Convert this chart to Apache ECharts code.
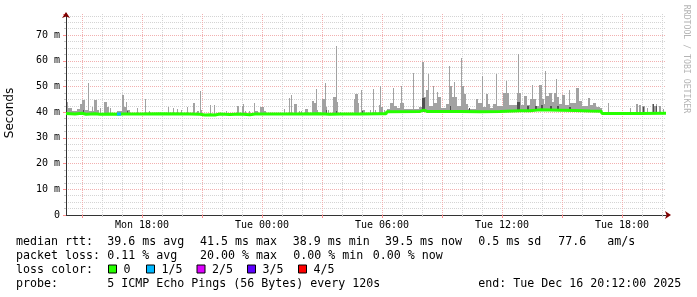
<!DOCTYPE html>
<html><head><meta charset="utf-8">
<script src="https://cdn.jsdelivr.net/npm/echarts@6/dist/echarts.min.js"></script>
<style>html,body{margin:0;padding:0;background:#fff}#c{width:697px;height:297px}</style>
</head><body><div id="c"></div>
<script>
// time axis: hours since Mon Dec 15 00:00 (end Tue Dec 16 20:12)
const timeMin = 14.2, timeMax = 44.2;
const hourGrid = [15,16,17,18,19,20,21,22,23,24,25,26,27,28,29,30,31,32,33,34,35,36,37,38,39,40,41,42,43,44];
const majorGrid = [15,18,21,24,27,30,33,36,39,42];
const labelHours = [18,24,30,36,42];
const labelTexts = ['Mon 18:00','Tue 00:00','Tue 06:00','Tue 12:00','Tue 18:00'];
const yMax = 78.2; // milliseconds

// median rtt (ms)
const medianHours  = [14.2,14.65,15.0,15.2,15.65,15.9,16.4,16.8,17.05,17.15,17.9,18.9,20.4,20.9,21.15,21.4,21.65,21.9,22.4,22.9,23.4,23.65,24.4,25.9,26.9,27.4,27.9,28.9,29.9,30.2,30.25,31.9,32.1,32.25,33.9,34.9,35.9,36.9,37.4,37.9,38.9,39.65,40.4,40.95,41.0,41.9,42.9,44.2];
const medianValues = [39.5,39.3,39.6,39.2,39.4,39.2,39.3,39.2,39.3,39.4,39.3,39.4,39.3,39.2,38.9,39.0,38.9,39.3,39.1,39.3,39.0,39.3,39.3,39.3,39.4,39.2,39.3,39.3,39.4,39.4,40.2,40.3,40.8,40.3,40.3,40.2,40.3,40.6,40.6,40.9,40.8,40.7,40.5,40.4,39.5,39.5,39.5,39.6];
// median segment with 1/5 loss
const lossHours = [16.75,16.95];
const lossValues = [39.3,39.3];

// smoke: [start hour, end hour, low ms, high ms]
const smokeLight = [
[14.25,14.30,39.1,44.1],[14.30,14.50,39.1,41.6],[14.50,14.75,39.1,40.4],[14.75,14.90,39.1,41.1],
[14.90,15.00,39.1,43.2],[15.00,15.15,39.1,44.6],[15.15,15.30,39.1,40.8],[15.30,15.35,39.1,51.5],
[15.35,15.50,39.1,40.5],[15.50,15.55,39.1,42.0],[15.55,15.60,39.1,40.6],[15.60,15.75,39.1,44.7],
[15.75,15.85,39.1,41.0],[15.90,15.95,39.1,41.5],[16.10,16.25,39.1,44.1],[16.25,16.35,39.1,42.0],
[16.40,16.45,39.1,41.6],[16.75,17.00,39.1,40.3],[17.00,17.10,39.1,46.7],[17.10,17.20,39.1,42.0],
[17.20,17.25,39.1,44.1],[17.25,17.40,39.1,40.7],[17.75,17.80,39.1,41.6],[18.15,18.20,39.1,45.1],
[18.35,18.40,39.1,40.6],[19.30,19.35,39.1,41.9],[19.55,19.60,39.1,41.6],[19.75,19.80,39.1,41.1],
[19.95,20.00,39.1,40.7],[20.25,20.30,39.1,42.1],[20.55,20.65,39.1,43.6],[20.75,20.85,39.1,40.6],
[20.90,20.95,39.1,48.2],[20.95,21.00,39.1,40.9],[21.40,21.45,39.1,42.8],[21.60,21.65,39.1,42.8],
[22.20,22.25,39.1,40.6],[22.75,22.85,39.1,42.3],[23.00,23.05,39.1,42.5],[23.05,23.10,39.1,43.0],
[23.15,23.20,39.1,40.6],[23.35,23.40,39.1,40.4],[23.60,23.65,39.1,43.4],[23.65,23.80,39.1,40.5],
[23.90,24.10,39.1,42.0],[24.10,24.20,39.1,40.3],[25.10,25.15,39.1,41.1],[25.35,25.40,39.1,45.4],
[25.45,25.50,39.1,46.7],[25.60,25.75,39.1,43.0],[25.85,25.90,39.1,40.4],[25.95,26.00,39.1,40.4],
[26.15,26.30,39.1,41.2],[26.50,26.60,39.1,44.3],[26.60,26.70,39.1,43.4],[26.70,26.75,39.1,49.0],
[26.75,26.80,39.1,41.0],[27.00,27.15,39.1,45.0],[27.15,27.20,39.1,51.5],[27.20,27.25,39.1,42.0],
[27.30,27.35,39.1,40.8],[27.55,27.70,39.1,46.0],[27.70,27.75,39.1,65.9],[27.75,27.80,39.1,44.0],
[27.90,27.95,39.1,40.2],[28.60,28.65,39.1,45.0],[28.65,28.80,39.1,46.9],[28.80,28.85,39.1,43.4],
[28.95,29.00,39.1,48.6],[29.00,29.10,39.1,41.0],[29.10,29.15,39.1,40.7],[29.40,29.45,39.1,40.7],
[29.55,29.60,39.1,49.0],[29.65,29.70,39.1,40.7],[29.85,29.90,39.1,42.8],[29.90,29.95,39.1,50.2],
[29.95,30.05,39.1,42.0],[30.10,30.15,39.1,40.8],
[30.25,30.40,40.0,41.3],[30.40,30.55,40.0,43.6],[30.55,30.60,40.0,49.5],[30.60,30.75,40.0,42.5],
[30.75,30.90,40.0,41.5],[30.90,30.95,40.0,43.4],[30.95,31.00,40.0,50.3],[31.00,31.10,40.0,43.4],
[31.10,31.55,40.0,41.1],[31.55,31.60,40.0,55.1],[31.60,31.85,40.0,41.3],[31.85,32.00,40.0,42.0],
[32.00,32.10,40.0,59.6],[32.10,32.20,40.0,46.0],[32.20,32.30,40.0,48.6],[32.30,32.35,40.0,55.0],
[32.35,32.55,40.0,42.5],[32.55,32.60,40.0,50.2],[32.60,32.75,40.0,43.4],[32.75,32.80,40.0,47.8],
[32.80,32.95,40.0,45.8],[32.95,33.20,40.0,41.5],[33.20,33.35,40.0,43.0],[33.35,33.40,40.0,58.0],
[33.40,33.50,40.0,50.0],[33.50,33.60,40.0,45.8],[33.60,33.65,40.0,51.9],[33.65,33.75,40.0,45.8],
[33.75,33.95,40.0,42.5],[33.95,34.00,40.0,61.0],[34.00,34.10,40.0,50.0],[34.10,34.20,40.0,47.2],
[34.20,34.30,40.0,43.0],[34.30,34.70,40.0,41.4],[34.70,34.80,40.0,45.0],[34.80,35.00,40.0,43.4],
[35.00,35.05,40.0,54.1],[35.05,35.20,40.0,42.0],[35.20,35.30,40.0,47.2],[35.30,35.40,40.0,43.0],
[35.40,35.55,40.0,41.5],[35.55,35.70,40.0,43.0],[35.70,35.75,40.0,55.0],[35.75,36.05,40.0,42.4],
[36.05,36.20,40.0,47.4],[36.20,36.25,40.0,52.1],[36.25,36.35,40.0,47.4],[36.35,36.75,40.0,42.8],
[36.75,36.80,40.3,47.4],[36.80,36.85,40.3,62.8],[36.85,36.95,40.3,47.4],[36.95,37.10,40.3,42.8],
[37.10,37.25,40.3,46.3],[37.25,37.40,40.3,42.8],[37.40,37.50,40.3,45.3],[37.50,37.55,40.3,50.4],
[37.55,37.70,40.3,45.0],[37.70,37.85,40.3,42.5],[37.85,38.00,40.3,50.4],[38.00,38.10,40.3,45.0],
[38.10,38.15,40.3,43.0],[38.15,38.20,40.3,56.0],[38.20,38.35,40.3,46.3],[38.35,38.50,40.3,47.3],
[38.50,38.60,40.3,44.0],[38.60,38.70,40.3,47.3],[38.70,38.75,40.3,53.0],[38.75,38.85,40.3,46.0],
[38.85,39.00,40.3,43.0],[39.00,39.15,40.3,46.8],[39.15,39.35,40.3,42.8],[39.35,39.40,40.3,48.6],
[39.40,39.70,40.3,43.5],[39.70,39.85,40.3,49.5],[39.85,40.00,40.3,44.3],[40.00,40.30,40.2,42.4],
[40.30,40.40,40.2,45.4],[40.40,40.55,40.2,42.8],[40.55,40.70,40.2,43.4],[40.70,40.90,40.1,42.0],
[40.90,41.00,40.1,41.5],
[41.30,41.35,39.2,43.7],[42.40,42.45,39.2,41.7],[42.70,42.80,39.2,43.0],[42.85,42.95,39.2,42.7],
[43.00,43.15,39.2,42.4],[43.25,43.30,39.2,41.6],[43.50,43.55,39.2,43.2],[43.60,43.70,39.2,42.4],
[43.70,43.75,39.2,43.2],[43.85,43.95,39.2,42.4],[44.05,44.10,39.2,41.3]
];
const smokeDark = [
[15.05,15.10,39.2,41.0],[17.25,17.30,39.2,40.6],[27.20,27.25,39.3,41.0],[27.70,27.75,39.3,40.6],
[29.00,29.05,39.3,40.4],[32.00,32.15,40.2,45.5],[33.40,33.45,40.2,42.5],[34.35,34.40,40.2,41.5],
[36.75,36.90,40.5,44.0],[37.25,37.35,40.6,42.5],[37.65,37.75,40.6,42.5],[37.95,38.05,40.6,42.8],
[38.40,38.50,40.6,42.5],[38.75,38.85,40.6,42.5],[39.35,39.45,40.5,42.0],[43.05,43.10,39.3,42.0],
[43.55,43.60,39.3,43.0],[43.70,43.75,39.3,42.4]
];

// legend texts
const rttRow = ['median rtt:','39.6 ms avg','41.5 ms max','38.9 ms min','39.5 ms now','0.5 ms sd','77.6   am/s'];
const lossRow = ['packet loss:','0.11 % avg','20.00 % max','0.00 % min','0.00 % now'];
const lossLegendTitle = 'loss color:';
const lossLabels = ['0','1/5','2/5','3/5','4/5'];
const probeRow = ['probe:','5 ICMP Echo Pings (56 Bytes) every 120s'];
const endText = 'end: Tue Dec 16 20:12:00 2025';
const yTitle = 'Seconds';
const watermark = 'RRDTOOL / TOBI OETIKER';

// ---------- layout / style ----------
const lossColors = ['#26ff00','#00b8ff','#dd00ff','#5e00ff','#ff0000'];
const MONO = '"DejaVu Sans Mono"';
const legendFont = '11.63px ' + MONO;
const rttX = [16,107.3,200,292.7,385,478.3,558.3];
const lossX = [16,107.3,200,293.3,372.7];
const boxX = [108.5,146.5,197,247.5,298.5];
const rowY = [241.5,255.5,269.5,283.5];
const grid = {left:66, right:31, top:14, bottom:82};

function txt(x, y, s, extra) {
  return Object.assign({type:'text', x:x, y:y, silent:true, style:{text:s, font:legendFont, fill:'#000',
    align:'left', verticalAlign:'middle', textAlign:'left', textVerticalAlign:'middle'}}, extra || {});
}
const graphics = [];
rttRow.forEach((s,i)=>graphics.push(txt(rttX[i], rowY[0], s)));
lossRow.forEach((s,i)=>graphics.push(txt(lossX[i], rowY[1], s)));
graphics.push(txt(16, rowY[2], lossLegendTitle));
lossLabels.forEach((s,i)=>{
  graphics.push({type:'rect', silent:true, shape:{x:boxX[i], y:rowY[2]-4.5, width:8, height:8},
    style:{fill:lossColors[i], stroke:'#000', lineWidth:1}});
  graphics.push(txt(boxX[i]+15, rowY[2], s));
});
graphics.push(txt(16, rowY[3], probeRow[0]));
graphics.push(txt(107.3, rowY[3], probeRow[1]));
graphics.push(txt(478.3, rowY[3], endText));
graphics.push({type:'text', x:10, y:113, rotation:Math.PI/2, silent:true,
  style:{text:yTitle, font:'12px "DejaVu Sans"', fill:'#000', align:'center', verticalAlign:'middle', textAlign:'center', textVerticalAlign:'middle'}});
graphics.push({type:'text', x:686, y:59, rotation:-Math.PI/2, silent:true,
  style:{text:watermark, font:'8.2px ' + MONO, fill:'#b4b4b4', align:'center', verticalAlign:'middle', textAlign:'center', textVerticalAlign:'middle'}});

function smokeRender(color) {
  return function(params, api) {
    const p1 = api.coord([api.value(0), api.value(3)]);
    const p2 = api.coord([api.value(1), api.value(2)]);
    const x1 = Math.round(p1[0]), x2 = Math.round(p2[0]);
    const y1 = Math.round(p1[1]), y2 = Math.round(p2[1]);
    return {type:'rect', shape:{x:x1, y:y1, width:Math.max(1, x2-x1), height:Math.max(1, y2-y1)},
      style:{fill:color}};
  };
}

const baseX = {type:'value', min:timeMin, max:timeMax, position:'bottom', axisLabel:{show:false},
  axisLine:{show:false, onZero:false}, axisTick:{show:false}, splitLine:{show:false}};
const baseY = {type:'value', min:0, max:yMax, position:'left', axisLabel:{show:false},
  axisLine:{show:false, onZero:false}, axisTick:{show:false}, splitLine:{show:false}};

const option = {
  animation:false,
  backgroundColor:'#fff',
  grid:grid,
  xAxis:[
    Object.assign({}, baseX, {
      axisTick:{show:true, customValues:hourGrid, length:2, lineStyle:{color:'#c8c8c8'}},
      splitLine:{show:true, lineStyle:{color:'#d4d4d4', width:1, type:[1,1]}}}),
    Object.assign({}, baseX, {
      axisLine:{show:true, onZero:false, lineStyle:{color:'#800000', width:1}, symbol:['none','arrow'], symbolSize:[6,6], symbolOffset:[0,5]},
      axisTick:{show:true, customValues:majorGrid, length:3, lineStyle:{color:'#ff9090'}},
      splitLine:{show:true, lineStyle:{color:'#f2b0b0', width:1, type:[1,1]}}}),
    Object.assign({}, baseX, {
      axisLine:{show:true, onZero:false, lineStyle:{color:'#333', width:1}},
      axisLabel:{show:true, customValues:labelHours, margin:5, color:'#000', fontFamily:'DejaVu Sans Mono', fontSize:10,
        formatter:function(v){ const i = labelHours.indexOf(v); return i >= 0 ? labelTexts[i] : ''; }}})
  ],
  yAxis:[
    Object.assign({}, baseY, {interval:2.5,
      axisTick:{show:true, length:2, lineStyle:{color:'#c8c8c8'}},
      splitLine:{show:true, showMinLine:false, showMaxLine:false, lineStyle:{color:'#d4d4d4', width:1, type:[1,1]}}}),
    Object.assign({}, baseY, {interval:10,
      axisLine:{show:true, onZero:false, lineStyle:{color:'#800000', width:1}, symbol:['none','arrow'], symbolSize:[6,6], symbolOffset:[0,2]},
      axisTick:{show:true, length:3, lineStyle:{color:'#ff9090'}},
      splitLine:{show:true, showMinLine:false, showMaxLine:false, lineStyle:{color:'#f2b0b0', width:1, type:[1,1]}}}),
    Object.assign({}, baseY, {interval:10,
      axisLine:{show:true, onZero:false, lineStyle:{color:'#333', width:1}},
      axisLabel:{show:true, margin:6, color:'#000', fontFamily:'DejaVu Sans Mono', fontSize:10,
        formatter:function(v){ if (v === 0) return '0'; return (Math.abs(v % 10) < 1e-9) ? (v + ' m') : ''; }}})
  ],
  series:[
    {type:'custom', xAxisIndex:2, yAxisIndex:2, renderItem:smokeRender('#a2a2a2'), data:smokeLight,
      encode:{x:[0,1], y:[2,3]}, z:2, silent:true},
    {type:'custom', xAxisIndex:2, yAxisIndex:2, renderItem:smokeRender('#505050'), data:smokeDark,
      encode:{x:[0,1], y:[2,3]}, z:3, silent:true},
    {type:'line', xAxisIndex:2, yAxisIndex:2, data:medianHours.map((h,i)=>[h, medianValues[i]]),
      showSymbol:false, lineStyle:{color:lossColors[0], width:3}, z:4, silent:true},
    {type:'line', xAxisIndex:2, yAxisIndex:2, data:lossHours.map((h,i)=>[h, lossValues[i]]),
      showSymbol:false, lineStyle:{color:lossColors[1], width:3}, z:5, silent:true}
  ],
  graphic:{elements:graphics}
};
const chart = echarts.init(document.getElementById('c'), null, {renderer:'canvas'});
chart.setOption(option);
</script>
</body></html>
